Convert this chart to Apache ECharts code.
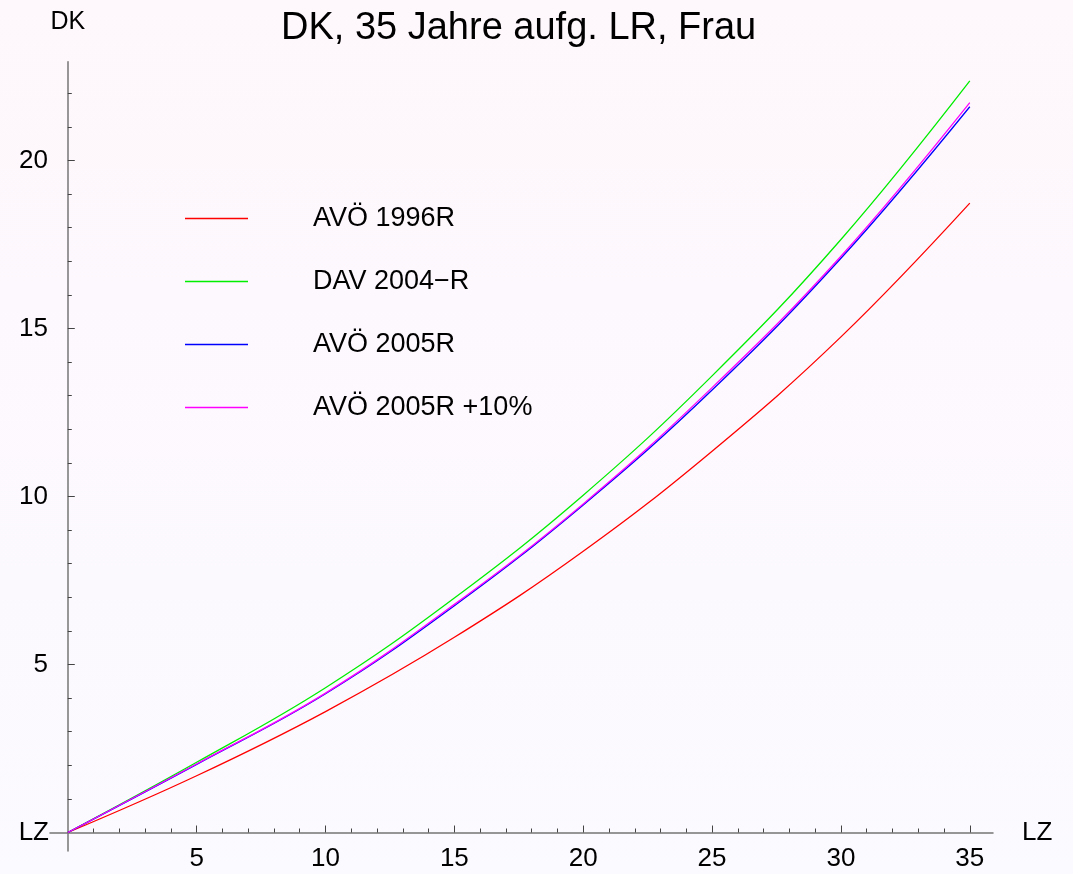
<!DOCTYPE html>
<html>
<head>
<meta charset="utf-8">
<script src="https://cdn.jsdelivr.net/npm/echarts@6/dist/echarts.min.js"></script>
<style>
html,body{margin:0;padding:0;background:#fdf8fd;}
#chart{width:1073px;height:874px;}
</style>
</head>
<body>
<div id="chart"></div>
<script>
// Data
const lz = [0, 5, 10, 15, 20, 25, 30, 35];
const avo1996 = [0, 1.69, 3.60, 5.81, 8.37, 11.35, 14.75, 18.73];
const dav2004 = [0, 2.09, 4.31, 6.98, 10.04, 13.59, 17.65, 22.37];
const avo2005 = [0, 2.03, 4.13, 6.75, 9.75, 13.17, 17.09, 21.60];
const avo2005p10 = [0, 2.04, 4.15, 6.79, 9.78, 13.24, 17.15, 21.72];
const seriesNames = ['AVÖ 1996R', 'DAV 2004\u2212R', 'AVÖ 2005R', 'AVÖ 2005R +10%'];
const xMajor = [5, 10, 15, 20, 25, 30, 35];
const xMinor = [1,2,3,4,6,7,8,9,11,12,13,14,16,17,18,19,21,22,23,24,26,27,28,29,31,32,33,34];
const yMajor = [5, 10, 15, 20];
const yMinor = [1,2,3,4,6,7,8,9,11,12,13,14,16,17,18,19,21,22];

const FONT = '"Liberation Sans", Arial, sans-serif';
const pair = (ys) => lz.map((x, i) => [x, ys[i]]);

const chart = echarts.init(document.getElementById('chart'), null, {renderer: 'canvas'});
const axisCol = '#767676';
const tickCol = '#444';

function xAx(main) {
  return {
    type: 'value', position: 'bottom', min: -0.69, max: 35.9,
    axisLine: {show: main, onZero: true, onZeroAxisIndex: 0, lineStyle: {color: axisCol, width: 1.5}},
    axisTick: {show: true, inside: true, length: main ? 7 : 4, customValues: main ? xMajor : xMinor,
               lineStyle: {color: tickCol, width: 1}},
    axisLabel: {show: main, customValues: xMajor, fontSize: 26, color: '#000', margin: -5, fontFamily: FONT},
    splitLine: {show: false},
    name: 'LZ', nameLocation: main ? 'end' : 'start', nameGap: main ? 29 : 1,
    nameTextStyle: {fontSize: 26, color: '#000', fontFamily: FONT, verticalAlign: 'middle', align: main ? 'left' : 'right'}
  };
}
function yAx(main) {
  return {
    type: 'value', position: 'left', min: -0.55, max: 22.94,
    axisLine: {show: main, onZero: true, onZeroAxisIndex: 0, lineStyle: {color: axisCol, width: 1.5}},
    axisTick: {show: true, inside: true, length: main ? 7 : 4, customValues: main ? yMajor : yMinor,
               lineStyle: {color: tickCol, width: 1}},
    axisLabel: {show: main, customValues: yMajor, fontSize: 26, color: '#000', margin: 2, fontFamily: FONT},
    splitLine: {show: false},
    name: main ? 'DK' : '', nameLocation: 'end', nameGap: 27,
    nameTextStyle: {fontSize: 25, color: '#000', fontFamily: FONT, align: 'center'}
  };
}

const colors = ['#ff0000', '#00ee00', '#0000ff', '#ff00ff'];
const datas = [avo1996, dav2004, avo2005, avo2005p10];

chart.setOption({
  animation: false,
  backgroundColor: {
    type: 'linear', x: 0, y: 0, x2: 0, y2: 1,
    colorStops: [{offset: 0, color: '#fef7fc'}, {offset: 1, color: '#fbfaff'}]
  },
  title: {
    text: 'DK, 35 Jahre aufg. LR, Frau', left: 276, top: 5,
    textStyle: {fontSize: 38, fontWeight: 'normal', color: '#000', fontFamily: FONT}
  },
  legend: {
    orient: 'vertical', left: 180, top: 200, itemWidth: 63, itemHeight: 1.5, itemGap: 36,
    icon: 'rect', selectedMode: false,
    data: seriesNames,
    textStyle: {fontSize: 27, color: '#000', fontFamily: FONT, lineHeight: 26, padding: [0, 0, 0, 60]}
  },
  grid: {left: 50, right: 80, top: 61.7, bottom: 23, outerBoundsMode: 'none', containLabel: false},
  xAxis: [xAx(true), xAx(false)],
  yAxis: [yAx(true), yAx(false)],
  series: datas.map((d, i) => ({
    name: seriesNames[i], type: 'line', xAxisIndex: 0, yAxisIndex: 0,
    data: pair(d), symbol: 'none', smooth: 0.4,
    lineStyle: {color: colors[i], width: 1.3}, itemStyle: {color: colors[i]}
  }))
});
</script>
</body>
</html>
